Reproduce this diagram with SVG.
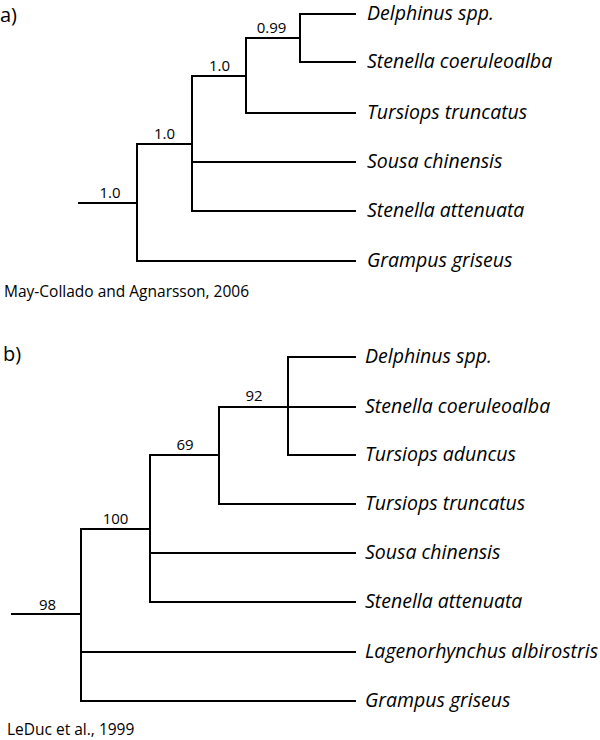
<svg xmlns="http://www.w3.org/2000/svg" width="600" height="740" viewBox="0 0 600 740">
<style>
.br{fill:none;stroke:#000;stroke-width:2;stroke-linecap:square}
.tx{font-family:"Open Sans","Noto Sans",sans-serif;fill:#000}
.sp{font-style:italic;font-size:19.5px}
.bs{font-size:15px;text-anchor:middle}
.pl{font-size:20px}
.cap{font-size:15.5px}
</style>
<rect width="600" height="740" fill="#fff"/>
<g id="panel-a">
<text class="tx pl" x="0" y="22">a)</text>
<g id="connectors-a">
<path class="br" d="M79,203H137M137,144V261M137,144H192M137,261H355M192,76V211M192,76H246M192,162H355M192,211H355M246,38V113M246,38H300M246,113H355M300,14V62M300,14H355M300,62H355"/>
</g>
<g id="a-n1"><text class="tx bs" x="110" y="198">1.0</text></g>
<g id="a-n2"><text class="tx bs" x="164.5" y="139">1.0</text></g>
<g id="a-n3"><text class="tx bs" x="219.5" y="71">1.0</text></g>
<g id="a-n4"><text class="tx bs" x="271.5" y="33">0.99</text></g>
<g id="a-t1"><text class="tx sp" x="367" y="20">Delphinus spp.</text></g>
<g id="a-t2"><text class="tx sp" x="367" y="68">Stenella coeruleoalba</text></g>
<g id="a-t3"><text class="tx sp" x="367" y="119">Tursiops truncatus</text></g>
<g id="a-t4"><text class="tx sp" x="367" y="168">Sousa chinensis</text></g>
<g id="a-t5"><text class="tx sp" x="367" y="217">Stenella attenuata</text></g>
<g id="a-t6"><text class="tx sp" x="367" y="267">Grampus griseus</text></g>
<text class="tx cap" x="4" y="297">May-Collado and Agnarsson, 2006</text>
</g>
<g id="panel-b">
<text class="tx pl" x="3" y="361">b)</text>
<g id="connectors-b">
<path class="br" d="M12,614H81M81,529V701M81,529H150M81,652H355M81,701H355M150,455V602M150,455H219M150,553H355M150,602H355M219,407V504M219,407H288M219,504H355M288,357V455M288,357H355M288,407H355M288,455H355"/>
</g>
<g id="b-n1"><text class="tx bs" x="47.5" y="610">98</text></g>
<g id="b-n2"><text class="tx bs" x="115.5" y="524">100</text></g>
<g id="b-n3"><text class="tx bs" x="185" y="450">69</text></g>
<g id="b-n4"><text class="tx bs" x="254" y="401">92</text></g>
<g id="b-t1"><text class="tx sp" x="365" y="363">Delphinus spp.</text></g>
<g id="b-t2"><text class="tx sp" x="365" y="413">Stenella coeruleoalba</text></g>
<g id="b-t3"><text class="tx sp" x="365" y="461">Tursiops aduncus</text></g>
<g id="b-t4"><text class="tx sp" x="365" y="510">Tursiops truncatus</text></g>
<g id="b-t5"><text class="tx sp" x="365" y="559">Sousa chinensis</text></g>
<g id="b-t6"><text class="tx sp" x="365" y="608">Stenella attenuata</text></g>
<g id="b-t7"><text class="tx sp" x="365" y="658">Lagenorhynchus albirostris</text></g>
<g id="b-t8"><text class="tx sp" x="365" y="707">Grampus griseus</text></g>
<text class="tx cap" x="7" y="735">LeDuc et al., 1999</text>
</g>
</svg>
